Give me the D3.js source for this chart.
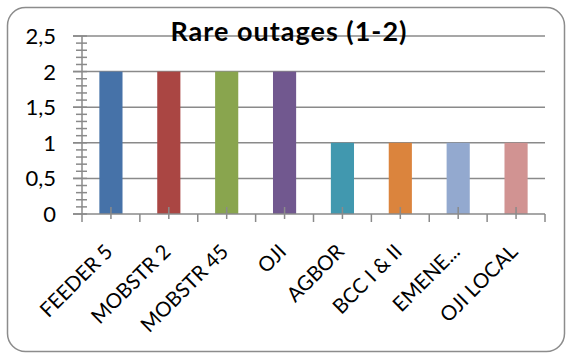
<!DOCTYPE html>
<html>
<head>
<meta charset="utf-8">
<script src="https://cdn.jsdelivr.net/npm/d3@7"></script>
<style>
  html, body { margin: 0; padding: 0; background: #fff; }
  svg { display: block; font-family: Lato, "Open Sans", sans-serif; }
</style>
</head>
<body>
<svg id="chart" width="567" height="356"></svg>
<script>
// Outage counts per feeder
const categories = ["FEEDER 5", "MOBSTR 2", "MOBSTR 45", "OJI", "AGBOR", "BCC I & II", "EMENE...", "OJI LOCAL"];
const values = [2, 2, 2, 2, 1, 1, 1, 1];
const colors = ["#4672A8", "#AA4643", "#89A54E", "#71588F", "#4198AF", "#DB843D", "#93A9CF", "#D19392"];
const yTicks = [0, 0.5, 1, 1.5, 2, 2.5];
const yTickLabels = ["0", "0,5", "1", "1,5", "2", "2,5"];
const title = "Rare outages (1-2)";

const svg = d3.select("#chart");
const plotLeft = 82, plotRight = 545, plotTop = 36, plotBottom = 214;
const axisColor = "#8a8a8a";

// outer chart frame
svg.append("rect")
  .attr("x", 7.5).attr("y", 7.5)
  .attr("width", 557).attr("height", 344)
  .attr("rx", 18).attr("ry", 18)
  .attr("fill", "#fff")
  .attr("stroke", "#8c8c8c").attr("stroke-width", 1.5);

const x = d3.scaleBand().domain(categories).range([plotLeft, plotRight])
  .paddingInner(0.6).paddingOuter(0.3);
const y = d3.scaleLinear().domain([0, 2.5]).range([plotBottom, plotTop]);

// horizontal gridlines (extend left as major ticks)
svg.append("g").selectAll("line").data(yTicks.filter(d => d > 0)).join("line")
  .attr("x1", plotLeft - 9).attr("x2", plotRight)
  .attr("y1", d => y(d)).attr("y2", d => y(d))
  .attr("stroke", axisColor).attr("stroke-width", 1.5);

// bars
svg.append("g").selectAll("rect").data(categories).join("rect")
  .attr("x", d => x(d))
  .attr("y", (d, i) => y(values[i]))
  .attr("width", x.bandwidth())
  .attr("height", (d, i) => y(0) - y(values[i]))
  .attr("fill", (d, i) => colors[i]);

// y axis line with crossing minor ticks every 0.1
const yAxis = svg.append("g");
yAxis.append("line")
  .attr("x1", plotLeft).attr("x2", plotLeft).attr("y1", y(2.5)).attr("y2", y(0))
  .attr("stroke", axisColor).attr("stroke-width", 1.5);
const minor = d3.range(1, 25).map(i => i / 10).filter(v => Math.abs(v * 2 - Math.round(v * 2)) > 1e-6);
yAxis.selectAll("line.minor").data(minor).join("line")
  .attr("class", "minor")
  .attr("x1", plotLeft - 6).attr("x2", plotLeft + 5)
  .attr("y1", d => y(d)).attr("y2", d => y(d))
  .attr("stroke", axisColor).attr("stroke-width", 1.5);
yAxis.selectAll("line.major").data(yTicks).join("line")
  .attr("class", "major")
  .attr("x1", plotLeft - 9).attr("x2", plotLeft + 5)
  .attr("y1", d => y(d)).attr("y2", d => y(d))
  .attr("stroke", axisColor).attr("stroke-width", 1.5);
yAxis.selectAll("text").data(yTicks).join("text")
  .attr("x", 56).attr("y", d => y(d))
  .attr("dy", "0.36em")
  .attr("text-anchor", "end")
  .attr("font-size", 22)
  .attr("fill", "#000")
  .text((d, i) => yTickLabels[i]);

// x axis line, boundary ticks and centre ticks
const xAxis = svg.append("g");
xAxis.append("line")
  .attr("x1", plotLeft - 9).attr("x2", plotRight).attr("y1", y(0)).attr("y2", y(0))
  .attr("stroke", axisColor).attr("stroke-width", 1.5);
const boundaries = d3.range(categories.length + 1).map(i => plotLeft + i * (plotRight - plotLeft) / categories.length);
xAxis.selectAll("line.bnd").data(boundaries).join("line")
  .attr("class", "bnd")
  .attr("x1", d => d).attr("x2", d => d)
  .attr("y1", y(0)).attr("y2", y(0) + 8)
  .attr("stroke", axisColor).attr("stroke-width", 1.5);
xAxis.selectAll("line.ctr").data(categories).join("line")
  .attr("class", "ctr")
  .attr("x1", d => x(d) + x.bandwidth() / 2).attr("x2", d => x(d) + x.bandwidth() / 2)
  .attr("y1", y(0) - 7).attr("y2", y(0) + 5)
  .attr("stroke", axisColor).attr("stroke-width", 1.5);
xAxis.selectAll("text").data(categories).join("text")
  .attr("transform", d => `translate(${x(d) + x.bandwidth() / 2 + 3},${y(0) + 39}) rotate(-45)`)
  .attr("text-anchor", "end")
  .attr("font-size", 20.5)
  .attr("fill", "#000")
  .text(d => d);

// title
svg.append("text")
  .attr("x", 289).attr("y", 41)
  .attr("text-anchor", "middle")
  .attr("font-size", 27)
  .attr("font-weight", "bold")
  .attr("letter-spacing", 1)
  .attr("fill", "#000")
  .text(title);
</script>
</body>
</html>
